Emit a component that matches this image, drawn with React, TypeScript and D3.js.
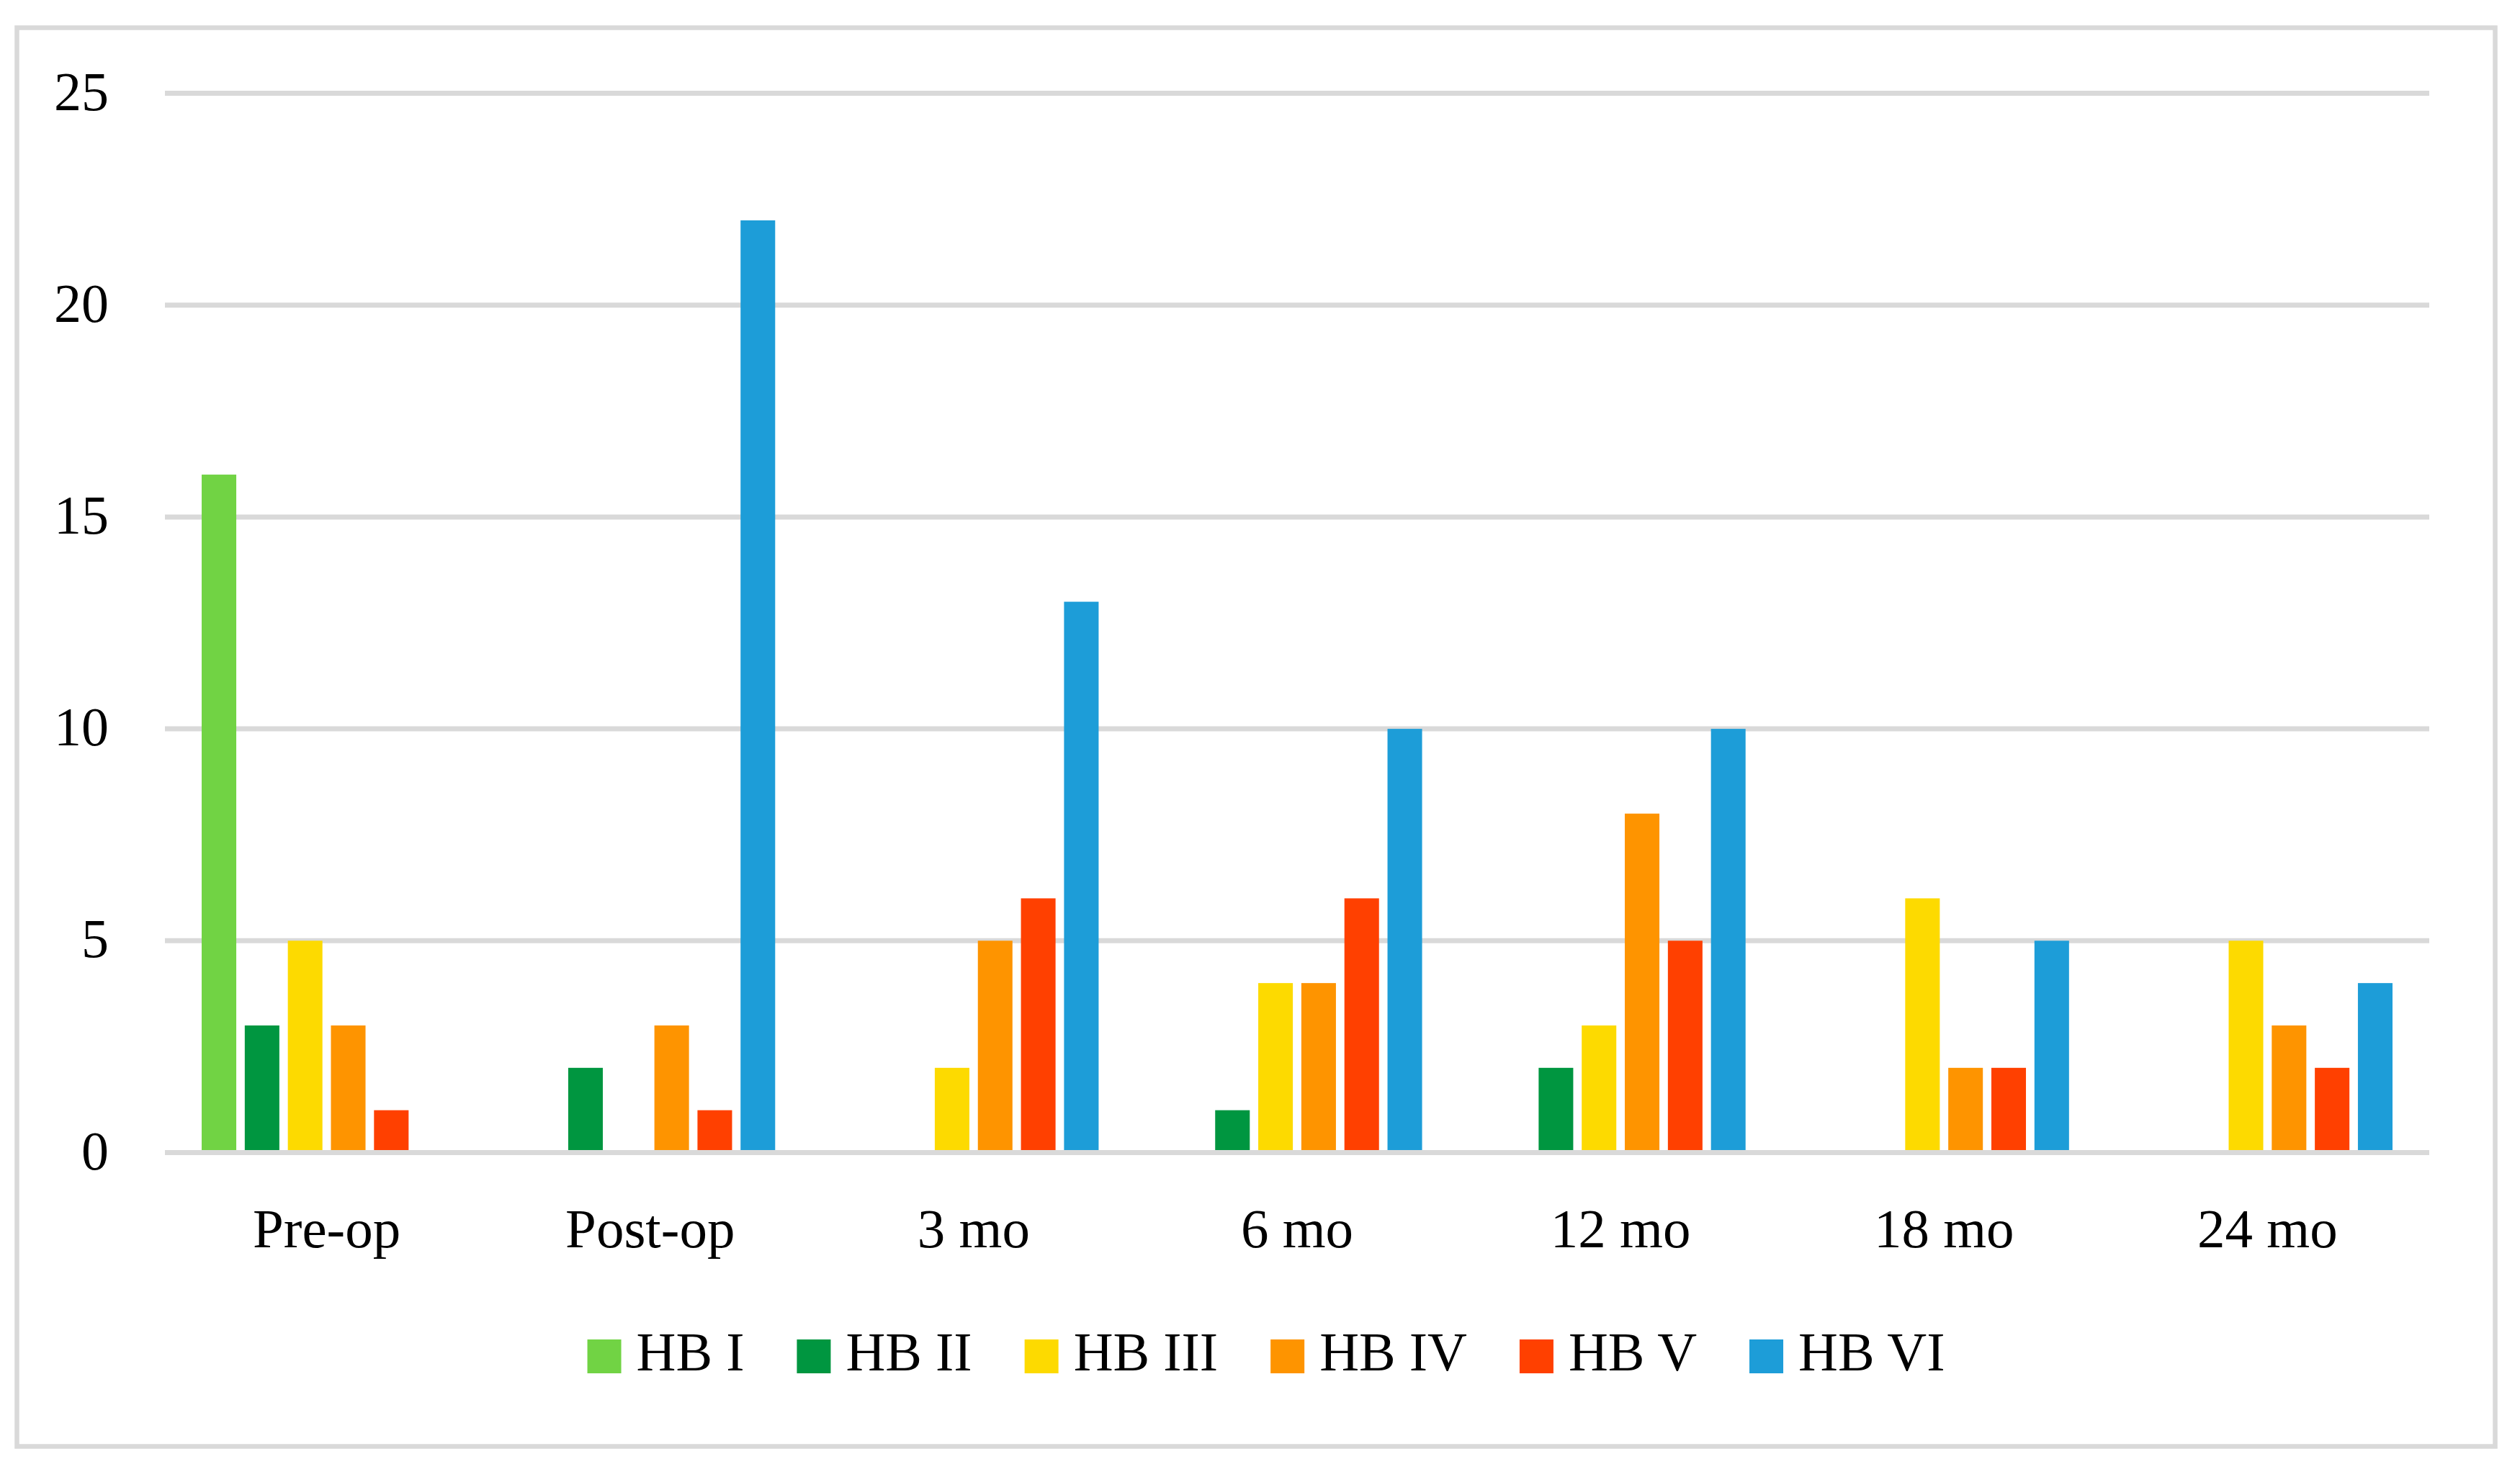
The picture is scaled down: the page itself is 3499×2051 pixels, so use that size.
import React, { useEffect, useRef } from 'react';
import * as d3 from 'd3';

const categories = ['Pre-op', 'Post-op', '3 mo', '6 mo', '12 mo', '18 mo', '24 mo'];
const seriesNames = ['HB I', 'HB II', 'HB III', 'HB IV', 'HB V', 'HB VI'];
const seriesColors = ['#71d344', '#009640', '#fdda00', '#fe9400', '#ff4000', '#1d9dd8'];

const hbI = [16, 0, 0, 0, 0, 0, 0];
const hbII = [3, 2, 0, 1, 2, 0, 0];
const hbIII = [5, 0, 2, 4, 3, 6, 5];
const hbIV = [3, 3, 5, 4, 8, 2, 3];
const hbV = [1, 1, 6, 6, 5, 2, 2];
const hbVI = [0, 22, 13, 10, 10, 5, 4];

const yTicks = [0, 5, 10, 15, 20, 25];

const FONT = "'Palatino Linotype', 'Book Antiqua', Palatino, 'Liberation Serif', serif";

interface BarDatum {
  category: string;
  series: string;
  value: number;
  color: string;
}

const App: React.FC = () => {
  const svgRef = useRef<SVGSVGElement>(null);

  useEffect(() => {
    if (!svgRef.current) {
      return;
    }
    document.body.style.margin = '0';

    const width = 3499;
    const height = 2051;
    const plotLeft = 229;
    const plotRight = 3373;
    const plotTop = 129.5;
    const plotBottom = 1600.5;
    const gridColor = '#d9d9d9';

    const svg = d3.select(svgRef.current);
    svg.selectAll('*').remove();
    svg.attr('width', width).attr('height', height).attr('viewBox', `0 0 ${width} ${height}`);

    svg.append('rect').attr('width', width).attr('height', height).attr('fill', '#ffffff');

    // outer chart border
    svg
      .append('rect')
      .attr('x', 23.5)
      .attr('y', 38.5)
      .attr('width', 3441)
      .attr('height', 1970)
      .attr('fill', 'none')
      .attr('stroke', gridColor)
      .attr('stroke-width', 6.5);

    const values = [hbI, hbII, hbIII, hbIV, hbV, hbVI];
    const data: BarDatum[] = [];
    categories.forEach((category, ci) => {
      seriesNames.forEach((series, si) => {
        data.push({ category, series, value: values[si][ci], color: seriesColors[si] });
      });
    });

    const x0 = d3
      .scaleBand<string>()
      .domain(categories)
      .range([plotLeft, plotRight])
      .paddingInner(0.2271)
      .paddingOuter(0.1136);

    const x1 = d3
      .scaleBand<string>()
      .domain(seriesNames)
      .range([0, x0.bandwidth()])
      .paddingInner(0.197)
      .paddingOuter(0);

    const y = d3.scaleLinear().domain([0, 25]).range([plotBottom, plotTop]);

    // gridlines
    svg
      .append('g')
      .selectAll('line')
      .data(yTicks)
      .enter()
      .append('line')
      .attr('x1', plotLeft)
      .attr('x2', plotRight)
      .attr('y1', (d) => y(d))
      .attr('y2', (d) => y(d))
      .attr('stroke', gridColor)
      .attr('stroke-width', 7);

    // y labels
    svg
      .append('g')
      .selectAll('text')
      .data(yTicks)
      .enter()
      .append('text')
      .attr('x', 151)
      .attr('y', (d) => y(d) + 23)
      .attr('text-anchor', 'end')
      .attr('font-family', FONT)
      .attr('font-size', '76px')
      .attr('fill', '#000000')
      .text((d) => String(d));

    // bars
    svg
      .append('g')
      .selectAll('rect')
      .data(data.filter((d) => d.value > 0))
      .enter()
      .append('rect')
      .attr('x', (d) => (x0(d.category) ?? 0) + (x1(d.series) ?? 0))
      .attr('y', (d) => y(d.value))
      .attr('width', x1.bandwidth())
      .attr('height', (d) => y(0) - 3.5 - y(d.value))
      .attr('fill', (d) => d.color);

    // redraw baseline over bar bottoms
    svg
      .append('line')
      .attr('x1', plotLeft)
      .attr('x2', plotRight)
      .attr('y1', y(0))
      .attr('y2', y(0))
      .attr('stroke', gridColor)
      .attr('stroke-width', 7);

    // category labels
    svg
      .append('g')
      .selectAll('text')
      .data(categories)
      .enter()
      .append('text')
      .attr('x', (d) => (x0(d) ?? 0) + x0.bandwidth() / 2)
      .attr('y', 1732)
      .attr('text-anchor', 'middle')
      .attr('font-family', FONT)
      .attr('font-size', '77px')
      .attr('fill', '#000000')
      .text((d) => d);

    // legend
    const swatch = 47;
    const swatchGap = 21;
    const itemGap = 73;
    const legend = svg.append('g');
    const items = seriesNames.map((name, i) => {
      const group = legend.append('g');
      group
        .append('rect')
        .attr('x', 0)
        .attr('y', 1860)
        .attr('width', swatch)
        .attr('height', swatch)
        .attr('fill', seriesColors[i]);
      const label = group
        .append('text')
        .attr('x', swatch + swatchGap)
        .attr('y', 1903)
        .attr('font-family', FONT)
        .attr('font-size', '76px')
        .attr('fill', '#000000')
        .text(name);
      const textWidth = (label.node() as SVGTextElement).getComputedTextLength();
      return { group, w: swatch + swatchGap + textWidth };
    });
    const total = d3.sum(items, (d) => d.w) + itemGap * (items.length - 1);
    let cursor = 1758 - total / 2;
    items.forEach((item) => {
      item.group.attr('transform', `translate(${cursor}, 0)`);
      cursor += item.w + itemGap;
    });
  }, []);

  return (
    <div>
      <svg ref={svgRef} style={{ display: 'block' }} />
    </div>
  );
};

export default App;
